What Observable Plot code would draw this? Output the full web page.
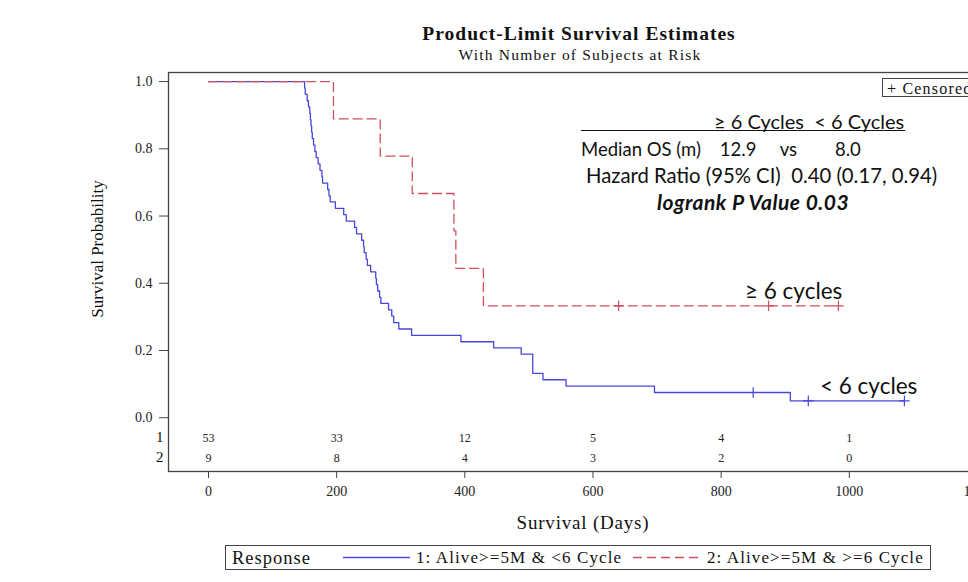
<!DOCTYPE html>
<html>
<head>
<meta charset="utf-8">
<script src="https://cdn.jsdelivr.net/npm/d3@7"></script>
<script src="https://cdn.jsdelivr.net/npm/@observablehq/plot@0.6"></script>
<style>
  html, body { margin:0; padding:0; background:#fff; }
  body { width:968px; height:582px; overflow:hidden; position:relative; }
  #chart { position:absolute; left:0; top:0; }
  #chart svg { max-width:none !important; }
  .ov { position:absolute; white-space:pre; line-height:1; color:#111; }
  .serif { font-family:"Liberation Serif", "Times New Roman", serif; }
  .sans { font-family:Lato, "Open Sans", sans-serif; }
</style>
</head>
<body>
<div id="chart"></div>
<script>
// ---- data ----
const g1Time = [0,150,151,154,156,158,159,160,161,162,164,166,168,171,174,177,178,186,188,190,198,
                211,215,228,231,239,242,243,246,248,253,261,262,264,267,269,281,286,289,297,317,
                394,445,488,506,522,558,696,908,1086];
const g1Surv = [1.000,0.981,0.962,0.943,0.925,0.906,0.887,0.868,0.849,0.830,0.811,0.792,0.774,0.755,0.736,0.717,0.698,0.679,0.660,0.642,0.623,
                0.604,0.585,0.566,0.547,0.528,0.509,0.491,0.472,0.453,0.434,0.415,0.396,0.377,0.358,0.340,0.321,0.302,0.283,0.264,0.245,
                0.226,0.208,0.189,0.132,0.113,0.094,0.075,0.050,0.050];
const g1CensTime = [850, 936, 1086];
const g1CensSurv = [0.075, 0.050, 0.050];

const g2Time = [0,195,268,318,383,386,429,983];
const g2Surv = [1.000,0.889,0.778,0.667,0.556,0.444,0.333,0.333];
const g2CensTime = [640, 874, 983];
const g2CensSurv = [0.333, 0.333, 0.333];

const riskTimes = [0,200,400,600,800,1000];
const risk1 = [53,33,12,5,4,1];
const risk2 = [9,8,4,3,2,0];

const xTicks = [0,200,400,600,800,1000,1200];
const yTicks = [0,0.2,0.4,0.6,0.8,1.0];

// ---- tables built from the arrays ----
const g1 = g1Time.map((t,i)=>({t, s:g1Surv[i]}));
const g2 = g2Time.map((t,i)=>({t, s:g2Surv[i]}));
const g1c = g1CensTime.map((t,i)=>({t, s:g1CensSurv[i]}));
const g2c = g2CensTime.map((t,i)=>({t, s:g2CensSurv[i]}));
const risk = riskTimes.map((t,i)=>({t, n1:String(risk1[i]), n2:String(risk2[i])}));

const blue = "#4747dd";
const red = "#cf4f5e";

const chart = Plot.plot({
  width: 1020,
  height: 582,
  marginLeft: 168,
  marginRight: 11,
  marginTop: 72,
  marginBottom: 111,
  x: {domain: [-62.4, 1250]},
  y: {domain: [-0.16, 1.027]},
  style: {fontFamily: "Liberation Serif, serif", fontSize: "14px", color: "#222", background: "white"},
  marks: [
    Plot.axisX({ticks: xTicks, tickFormat: d3.format("d"), tickSize: 7, tickPadding: 8, label: null, fontSize: 14, stroke: "#444"}),
    Plot.axisY({ticks: yTicks, tickFormat: d3.format(".1f"), tickSize: 9, tickPadding: 7, label: null, fontSize: 14, stroke: "#444"}),
    Plot.line(g1, {x: "t", y: "s", curve: "step-after", stroke: blue, strokeWidth: 1.3}),
    Plot.line(g2, {x: "t", y: "s", curve: "step-after", stroke: red, strokeWidth: 1.3, strokeDasharray: "9,5"}),
    Plot.dot(g1c, {x: "t", y: "s", symbol: "plus", r: 3.5, stroke: blue, strokeWidth: 1.2}),
    Plot.dot(g2c, {x: "t", y: "s", symbol: "plus", r: 3.5, stroke: red, strokeWidth: 1.2}),
    Plot.text(risk, {x: "t", text: "n1", frameAnchor: "bottom", dy: -30, fontSize: 12, fill: "#222"}),
    Plot.text(risk, {x: "t", text: "n2", frameAnchor: "bottom", dy: -10, fontSize: 12, fill: "#222"}),
    Plot.text(["1"], {text: d => d, frameAnchor: "bottom-left", dx: -5, dy: -30, textAnchor: "end", fontSize: 15, fill: "#111"}),
    Plot.text(["2"], {text: d => d, frameAnchor: "bottom-left", dx: -5, dy: -10, textAnchor: "end", fontSize: 15, fill: "#111"}),
    Plot.frame({stroke: "#444", strokeWidth: 1.3})
  ]
});
document.getElementById("chart").appendChild(chart);

// ---- overlay texts ----
function ov(text, x, y, cls, css, anchor) {
  const d = document.createElement("div");
  d.className = "ov " + cls;
  d.textContent = text;
  d.style.left = x + "px";
  d.style.top = y + "px";
  d.style.transform = anchor === "center" ? "translate(-50%,-50%)" : "translateY(-50%)";
  Object.assign(d.style, css || {});
  document.body.appendChild(d);
  return d;
}
ov("Product-Limit Survival Estimates", 579, 34, "serif", {fontWeight: "bold", fontSize: "19.5px", letterSpacing: "1px"}, "center");
ov("With Number of Subjects at Risk", 580, 55, "serif", {fontSize: "15.5px", letterSpacing: "1.2px"}, "center");
ov("Survival (Days)", 583, 522, "serif", {fontSize: "19px", letterSpacing: "0.8px"}, "center");
ov("Survival Probability", 97, 249, "serif", {fontSize: "17px", transform: "translate(-50%,-50%) rotate(-90deg)"}, "center");

// statistics box
ov("≥ 6 Cycles  < 6 Cycles", 714, 121, "sans", {fontSize: "20px"});
const ul = document.createElement("div");
ul.style.cssText = "position:absolute;left:581px;top:130px;width:324px;height:0;border-top:1.5px solid #111;";
document.body.appendChild(ul);
ov("Median OS (m)    12.9     vs        8.0", 581, 149, "sans", {fontSize: "18.5px"});
ov("Hazard Ratio (95% CI)  0.40 (0.17, 0.94)", 586, 175, "sans", {fontSize: "20.3px"});
ov("logrank P Value 0.03", 657, 201, "sans", {fontSize: "21px", fontWeight: "bold", fontStyle: "italic", letterSpacing: "0.5px"});
ov("≥ 6 cycles", 745, 291, "sans", {fontSize: "22.5px"});
ov("< 6 cycles", 820, 386, "sans", {fontSize: "22.5px"});

// censored legend box (top right)
const cb = document.createElement("div");
cb.className = "ov serif";
cb.style.cssText += "left:882px;top:78px;height:19px;width:120px;border:1px solid #444;font-size:16px;letter-spacing:1.2px;padding-left:4px;line-height:19px;box-sizing:border-box;";
cb.textContent = "+ Censored";
document.body.appendChild(cb);

// bottom legend
const lg = document.createElement("div");
lg.style.cssText = "position:absolute;left:225px;top:545px;width:706px;height:25px;border:1px solid #444;box-sizing:border-box;";
document.body.appendChild(lg);
ov("Response", 232, 558, "serif", {fontSize: "18.5px", letterSpacing: "1px"});
const ls = document.createElementNS("http://www.w3.org/2000/svg", "svg");
ls.setAttribute("width", 968); ls.setAttribute("height", 582);
ls.style.cssText = "position:absolute;left:0;top:0;pointer-events:none;";
ls.innerHTML = `<line x1="343" y1="557.5" x2="410" y2="557.5" stroke="${blue}" stroke-width="1.3"/>
<line x1="633" y1="557.5" x2="700" y2="557.5" stroke="${red}" stroke-width="1.3" stroke-dasharray="9,5"/>`;
document.body.appendChild(ls);
ov("1: Alive>=5M & <6 Cycle", 416, 557, "serif", {fontSize: "17px", letterSpacing: "1.1px"});
ov("2: Alive>=5M & >=6 Cycle", 707, 557, "serif", {fontSize: "17px", letterSpacing: "1.1px"});
</script>
</body>
</html>
